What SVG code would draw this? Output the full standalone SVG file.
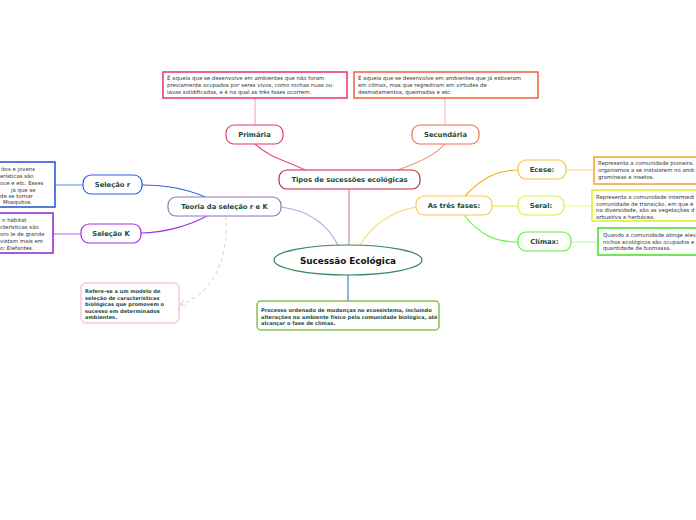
<svg xmlns="http://www.w3.org/2000/svg" width="696" height="520" viewBox="0 0 696 520">
<style>
.lbl{font-family:"DejaVu Sans",Verdana,sans-serif;font-weight:bold;font-size:6.8px;fill:#1d4a3c;text-anchor:middle}
.txt{font-family:"DejaVu Sans",Verdana,sans-serif;font-size:5.4px;fill:#333}
.btxt{font-family:"DejaVu Sans",Verdana,sans-serif;font-size:5.1px;font-weight:bold;fill:#1d4a3c}
.node{fill:#fff;stroke-width:1.2}
.box{fill:#fff;stroke-width:1.5}
.c{fill:none;stroke-width:1.1}
</style>
<defs>
<marker id="ah" markerWidth="6" markerHeight="6" refX="5" refY="3" orient="auto" markerUnits="userSpaceOnUse">
<path d="M0,0 L5,3 L0,6" fill="none" stroke="#f8c8dc" stroke-width="1"/>
</marker>
</defs>
<rect width="696" height="520" fill="#fff"/>
<g id="connectors">
<path class="c" d="M349,245 L349,189" stroke="#d08494"/>
<path class="c" d="M338,245 C325,220 305,210 281,207" stroke="#b0a8d4"/>
<path class="c" d="M360,245 C372,225 390,212 416,207" stroke="#f8d470"/>
<path class="c" d="M348,275 L348,301" stroke="#3070e0"/>
<path class="c" d="M305,170 C285,160 270,158 255,144" stroke="#e84c80"/>
<path class="c" d="M398,170 C420,162 435,155 445,144" stroke="#f08464"/>
<path class="c" d="M255,125 L255,98" stroke="#f4a8bc"/>
<path class="c" d="M445,125 L445,98" stroke="#f8b8a0"/>
<path class="c" d="M205,197 C185,188 165,185 142,185" stroke="#3060e8"/>
<path class="c" d="M207,216 C190,225 165,233 141,233" stroke="#a030e8"/>
<path class="c" d="M83,185 L55,185" stroke="#6090f0"/>
<path class="c" d="M81,234 L53,234" stroke="#c070f0"/>
<path class="c" d="M226,216 C228,250 220,290 180,305" stroke="#f8c8dc" stroke-dasharray="4,3" marker-end="url(#ah)"/>
<path class="c" d="M465,196 C480,180 495,170 518,170" stroke="#f8a830"/>
<path class="c" d="M492,206 L518,206" stroke="#e0f040"/>
<path class="c" d="M464,215 C480,235 495,242 518,242" stroke="#60f040"/>
<path class="c" d="M566,170 L594,170" stroke="#fcd090"/>
<path class="c" d="M564,206 L592,206" stroke="#ecf890"/>
<path class="c" d="M571,242 L598,242" stroke="#b8f8a8"/>
</g>
<g id="box-primaria">
<rect class="box" x="163" y="72" width="184" height="26" stroke="#e8336b"/>
<text class="txt" x="167" y="80">É aquela que se desenvolve em ambientes que não foram</text>
<text class="txt" x="167" y="87">previamente ocupados por seres vivos, como rochas nuas ou</text>
<text class="txt" x="167" y="94">lavas solidificadas, e é na qual as três fases ocorrem.</text>
</g>
<g id="box-secundaria">
<rect class="box" x="354" y="72" width="184" height="26" stroke="#f06038"/>
<text class="txt" x="358" y="80">É aquela que se desenvolve em ambientes que já estiveram</text>
<text class="txt" x="358" y="87">em clímax, mas que regrediram em virtudes de</text>
<text class="txt" x="358" y="94">desmatamentos, queimadas e etc.</text>
</g>
<g id="primaria">
<rect class="node" x="226" y="125" width="57" height="19" rx="8" stroke="#e8336b"/>
<text class="lbl" x="254.5" y="137">Primária</text>
</g>
<g id="secundaria">
<rect class="node" x="412" y="125" width="67" height="19" rx="8" stroke="#f07050"/>
<text class="lbl" x="445.5" y="137">Secundária</text>
</g>
<g id="tipos">
<rect class="node" x="279" y="170" width="141" height="19" rx="8" stroke="#c0283a"/>
<text class="lbl" x="349.5" y="182">Tipos de sucessões ecológicas</text>
</g>
<g id="teoria">
<rect class="node" x="168" y="197" width="113" height="19" rx="8" stroke="#8878c0"/>
<text class="lbl" x="224.5" y="209">Teoria da seleção r e K</text>
</g>
<g id="selecao-r">
<rect class="node" x="83" y="175" width="59" height="19" rx="8" stroke="#2060e0"/>
<text class="lbl" x="112.5" y="187">Seleção r</text>
</g>
<g id="selecao-k">
<rect class="node" x="81" y="224" width="60" height="19" rx="8" stroke="#a030e0"/>
<text class="lbl" x="111" y="236">Seleção K</text>
</g>
<g id="box-r">
<rect class="box" x="-2" y="162" width="57" height="45" stroke="#2050d0"/>
<text class="txt" x="1" y="171">itos e jovens</text>
<text class="txt" x="0" y="178">erísticas são</text>
<text class="txt" x="0" y="185">oce e etc. Esses</text>
<text class="txt" x="11" y="192">já que se</text>
<text class="txt" x="0" y="198">de se tornar</text>
<text class="txt" x="3" y="204">Mosquitos.</text>
</g>
<g id="box-k">
<rect class="box" x="-2" y="213" width="55" height="40" stroke="#9020d0"/>
<text class="txt" x="2" y="222">n hábitat</text>
<text class="txt" x="0" y="229">cterísticas são</text>
<text class="txt" x="0" y="236">oro le de grande</text>
<text class="txt" x="0" y="243">vistam mais em</text>
<text class="txt" x="0" y="250">o: Elefantes.</text>
</g>
<g id="sucessao">
<ellipse cx="348" cy="260" rx="74" ry="15" fill="#fff" stroke="#2e8b57" stroke-width="1.2"/>
<text class="lbl" x="348" y="263.5" style="font-size:8.8px;fill:#111">Sucessão Ecológica</text>
</g>
<g id="box-processo">
<rect class="box" x="257" y="301" width="182" height="29" rx="4" stroke="#88c050" stroke-width="1.2"/>
<text class="btxt" x="261" y="312">Processo ordenado de mudanças no ecossistema, incluindo</text>
<text class="btxt" x="261" y="318.5">alterações no ambiente físico pela comunidade biológica, até</text>
<text class="btxt" x="261" y="325">alcançar o fase de clímax.</text>
</g>
<g id="box-teoria">
<rect class="box" x="81" y="283" width="98" height="40" rx="5" stroke="#f8c8dc" stroke-width="1.2"/>
<text class="btxt" x="85" y="293">Refere-se a um modelo de</text>
<text class="btxt" x="85" y="299.5">seleção de características</text>
<text class="btxt" x="85" y="306">biológicas que promovem o</text>
<text class="btxt" x="85" y="312.5">sucesso em determinados</text>
<text class="btxt" x="85" y="319">ambientes.</text>
</g>
<g id="tres-fases">
<rect class="node" x="416" y="196" width="76" height="19" rx="8" stroke="#f8c850"/>
<text class="lbl" x="454" y="208">As três fases:</text>
</g>
<g id="ecese">
<rect class="node" x="518" y="160" width="48" height="19" rx="8" stroke="#f8c040"/>
<text class="lbl" x="542" y="172">Ecese:</text>
</g>
<g id="seral">
<rect class="node" x="518" y="196" width="46" height="19" rx="8" stroke="#d8f040"/>
<text class="lbl" x="541" y="208">Seral:</text>
</g>
<g id="climax">
<rect class="node" x="518" y="232" width="53" height="19" rx="8" stroke="#60f040"/>
<text class="lbl" x="544.5" y="244">Clímax:</text>
</g>
<g id="box-ecese">
<rect class="box" x="594" y="157" width="106" height="27" stroke="#f8a020"/>
<text class="txt" x="598" y="165">Representa a comunidade pioneira.</text>
<text class="txt" x="598" y="172">organismos a se instalarem no amb</text>
<text class="txt" x="598" y="179">gramíneas e insetos.</text>
</g>
<g id="box-seral">
<rect class="box" x="592" y="190" width="108" height="31" stroke="#d8f020"/>
<text class="txt" x="596" y="199">Representa a comunidade intermedi</text>
<text class="txt" x="596" y="205.5">comunidade de transição, em que é</text>
<text class="txt" x="596" y="212">na diversidade, são as vegetações d</text>
<text class="txt" x="596" y="218.5">arbustiva e herbácea.</text>
</g>
<g id="box-climax">
<rect class="box" x="598" y="228" width="102" height="27" stroke="#40e020"/>
<text class="txt" x="603" y="237">Quando a comunidade atinge elev</text>
<text class="txt" x="603" y="243.5">nichos ecológicos são ocupados e</text>
<text class="txt" x="603" y="250">quantidade de biomassa.</text>
</g>
</svg>
